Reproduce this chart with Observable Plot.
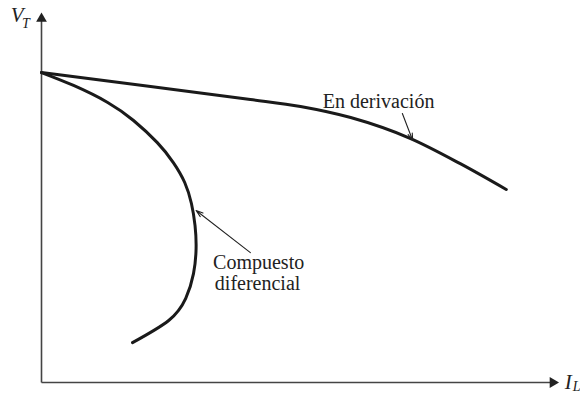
<!DOCTYPE html>
<html>
<head>
<meta charset="utf-8">
<script src="https://cdn.jsdelivr.net/npm/d3@7"></script>
<script src="https://cdn.jsdelivr.net/npm/@observablehq/plot@0.6"></script>
<style>
  html, body { margin: 0; padding: 0; background: #fff; }
  #chart svg { display: block; }
  #chart svg text { font-family: "Liberation Serif", "Tinos", "Times New Roman", "DejaVu Serif", serif !important; }
</style>
</head>
<body>
<div id="chart"></div>
<script>
// Characteristic curves (I_L in arbitrary units 0-100, V_T in arbitrary units 0-100)
const shuntIL = [0, 21.1, 40.4, 50.1, 59.8, 71.4, 81.0, 89.9];
const shuntVT = [84.0, 80.2, 76.7, 74.8, 71.8, 66.1, 59.3, 52.3];

const compIL = [0, 6.2, 12.8, 17.8, 22.4, 25.5, 27.7, 29.0, 29.7, 29.9, 29.4, 27.9, 24.6, 17.6];
const compVT = [84.0, 80.5, 75.9, 71.0, 65.0, 59.6, 54.2, 48.5, 42.5, 36.3, 29.5, 22.8, 16.8, 10.8];

// Annotation labels
const labelText = ["En derivación", "Compuesto", "diferencial"];
const labelX = [65.2, 42.0, 41.8];
const labelY = [76.0, 32.6, 26.7];
const labelAnchor = ["start", "middle", "middle"];

// Annotation arrows (tail -> tip)
const arrowX1 = [69.8, 40.4];
const arrowY1 = [72.9, 35.2];
const arrowX2 = [71.8, 29.9];
const arrowY2 = [65.6, 46.6];

// Axis titles (main letter + subscript)
const axisMain = ["V", "I"];
const axisMainX = [-4.7, 101.9];
const axisMainY = [99.6, 0.1];
const axisSub = ["T", "L"];
const axisSubX = [-3.0, 103.5];
const axisSubY = [97.4, -1.2];

const shunt = shuntIL.map((x, i) => ({x, y: shuntVT[i]}));
const comp = compIL.map((x, i) => ({x, y: compVT[i]}));
const labels = labelText.map((t, i) => ({t, x: labelX[i], y: labelY[i], a: labelAnchor[i]}));
const arrows = arrowX1.map((x1, i) => ({x1, y1: arrowY1[i], x2: arrowX2[i], y2: arrowY2[i]}));
const mains = axisMain.map((t, i) => ({t, x: axisMainX[i], y: axisMainY[i]}));
const subs = axisSub.map((t, i) => ({t, x: axisSubX[i], y: axisSubY[i]}));

const axisLines = [{x1: 0, y1: 0, x2: 0, y2: 99}, {x1: 0, y1: 0, x2: 99, y2: 0}];
const axisHeads = [{x: 0, y: 98.6, r: 0}, {x: 98.9, y: 0, r: 90}];

const serif = "Liberation Serif, DejaVu Serif, serif";

const chart = Plot.plot({
  width: 580,
  height: 397,
  marginLeft: 41,
  marginRight: 22,
  marginTop: 13,
  marginBottom: 15,
  x: {domain: [0, 100], axis: null},
  y: {domain: [0, 100], axis: null},
  style: {background: "#fff", fontFamily: serif},
  marks: [
    Plot.link(axisLines, {x1: "x1", y1: "y1", x2: "x2", y2: "y2", stroke: "#444", strokeWidth: 1.6}),
    Plot.dot(axisHeads, {x: "x", y: "y", rotate: "r", symbol: "triangle", r: 4, fill: "#222", stroke: "none"}),
    Plot.line(shunt, {x: "x", y: "y", curve: "monotone-x", stroke: "#1a1a1a", strokeWidth: 3}),
    Plot.line(comp, {x: "x", y: "y", curve: "natural", stroke: "#1a1a1a", strokeWidth: 3}),
    Plot.arrow(arrows, {x1: "x1", y1: "y1", x2: "x2", y2: "y2", stroke: "#222", strokeWidth: 1.1, headLength: 10, headAngle: 35}),
    Plot.text(labels, {x: "x", y: "y", text: "t", textAnchor: "a", fontSize: 20, fill: "#222", fontFamily: serif}),
    Plot.text(mains, {x: "x", y: "y", text: "t", fontSize: 21, fontStyle: "italic", fill: "#222", fontFamily: serif}),
    Plot.text(subs, {x: "x", y: "y", text: "t", fontSize: 14, fontStyle: "italic", fill: "#222", fontFamily: serif})
  ]
});
document.getElementById("chart").appendChild(chart);
</script>
</body>
</html>
